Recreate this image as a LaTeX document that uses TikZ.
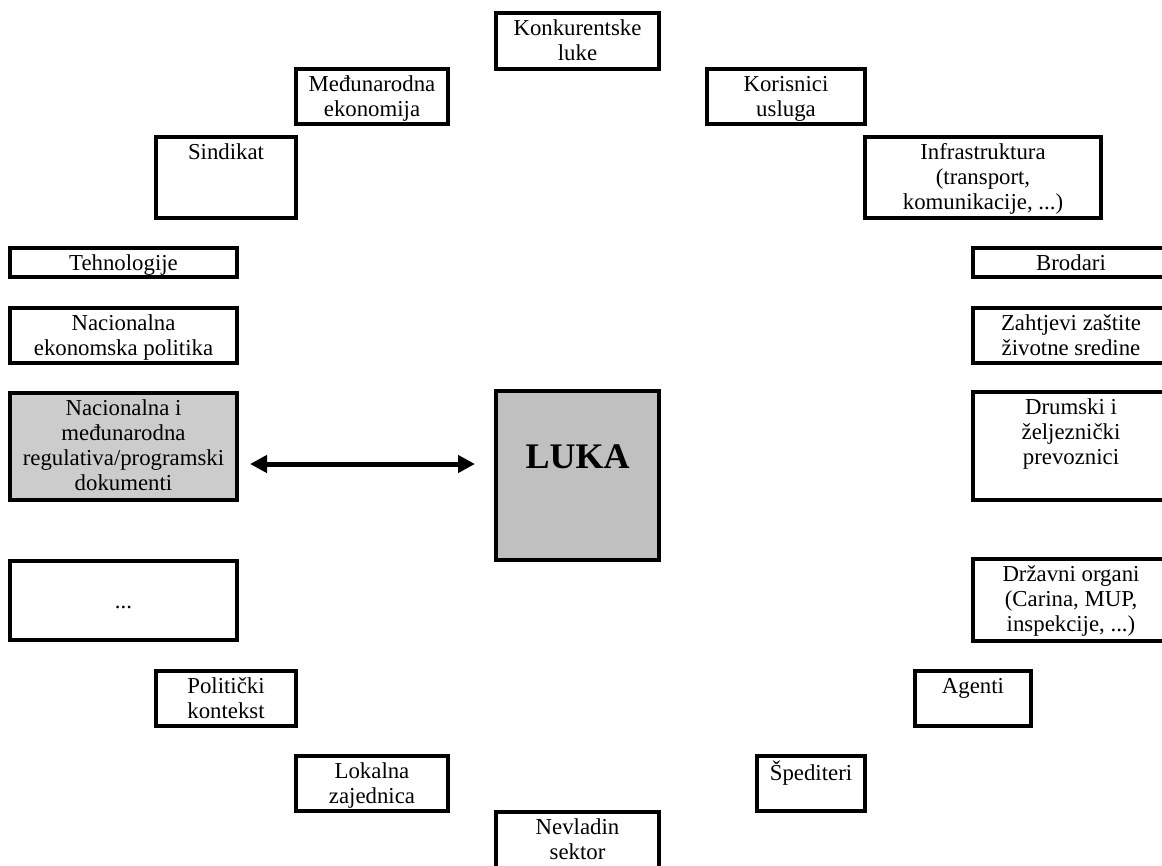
\documentclass[tikz,border=0pt]{standalone}
\usepackage{fontspec}
\setmainfont{Liberation Serif}
\usetikzlibrary{arrows.meta}
\definecolor{lukagray}{HTML}{C0C0C0}
\definecolor{reggray}{HTML}{CCCCCC}
\tikzset{
  pbx/.style={draw=black, line width=4.4pt, inner sep=0pt, outer sep=0pt},
  ptxt/.style={align=center, inner sep=0pt, font=\fontsize{22.8}{25}\selectfont},
  conn/.style={line width=5pt, {Triangle[length=17pt,width=17pt]}-{Triangle[length=17pt,width=17pt]}},
}
% #1 fill, #2 name, #3 x1, #4 y1, #5 x2, #6 y2 (outer edges, px), #7 text
\newcommand\pbox[7][white]{%
  \node[pbx, fill=#1, anchor=north west,
        minimum width={#5-#3-4.4}, minimum height={#6-#4-4.4}]
        (#2) at ({#3+2.2},{#4+2.2}) {};
  \node[ptxt, anchor=north] at ([yshift=-4.3pt]#2.north) {\strut #7};
}
\begin{document}
\begin{tikzpicture}[x=1pt, y=-1pt]
\useasboundingbox (0,0) rectangle (1162,865);
\fill[white] (0,0) rectangle (1162,865);
\clip (0,0) rectangle (1162,865);

\pbox{kl}{494}{11}{661}{71}{Konkurentske\\luke}
\pbox{me}{294}{67}{450}{126}{Međunarodna\\ekonomija}
\pbox{ku}{705}{67}{867}{126}{Korisnici\\usluga}
\pbox{si}{154}{135}{298}{220}{Sindikat}
\pbox{inf}{863}{135}{1103}{220}{Infrastruktura\\(transport,\\komunikacije, ...)}
\pbox{te}{8}{246}{239}{279}{Tehnologije}
\pbox{br}{971}{246}{1171}{279}{Brodari}
\pbox{nep}{8}{306}{239}{365}{Nacionalna\\ekonomska politika}
\pbox{zz}{971}{306}{1171}{365}{Zahtjevi zaštite\\životne sredine}
\pbox[reggray]{nir}{8}{391}{239}{502}{Nacionalna i\\međunarodna\\regulativa/programski\\dokumenti}
\pbox{dz}{971}{390}{1171}{502}{Drumski i\\željeznički\\prevoznici}
\pbox{etc}{8}{559}{239}{642}{\\...}
\pbox{dor}{971}{557}{1171}{643}{Državni organi\\(Carina, MUP,\\inspekcije, ...)}
\pbox{pk}{154}{669}{298}{728}{Politički\\kontekst}
\pbox{ag}{913}{669}{1033}{728}{Agenti}
\pbox{lz}{294}{754}{450}{813}{Lokalna\\zajednica}
\pbox{sp}{755}{754}{867}{813}{Špediteri}
\pbox{ns}{494}{810}{661}{885}{Nevladin\\sektor}

% central box
\node[pbx, fill=lukagray, anchor=north west,
      minimum width={661-494-4.4}, minimum height={562-389-4.4}]
      (luka) at ({494+2.2},{389+2.2}) {};
\node[anchor=base, inner sep=0pt, font=\fontsize{36}{40}\selectfont\bfseries]
      at ([yshift=-76.8pt]luka.north) {LUKA};

% connector
\draw[conn, shorten <=13.2pt, shorten >=21.2pt]
  ([yshift=-17.5pt]nir.east) -- ([yshift=-17.5pt]nir.east -| luka.west);
\end{tikzpicture}
\end{document}
